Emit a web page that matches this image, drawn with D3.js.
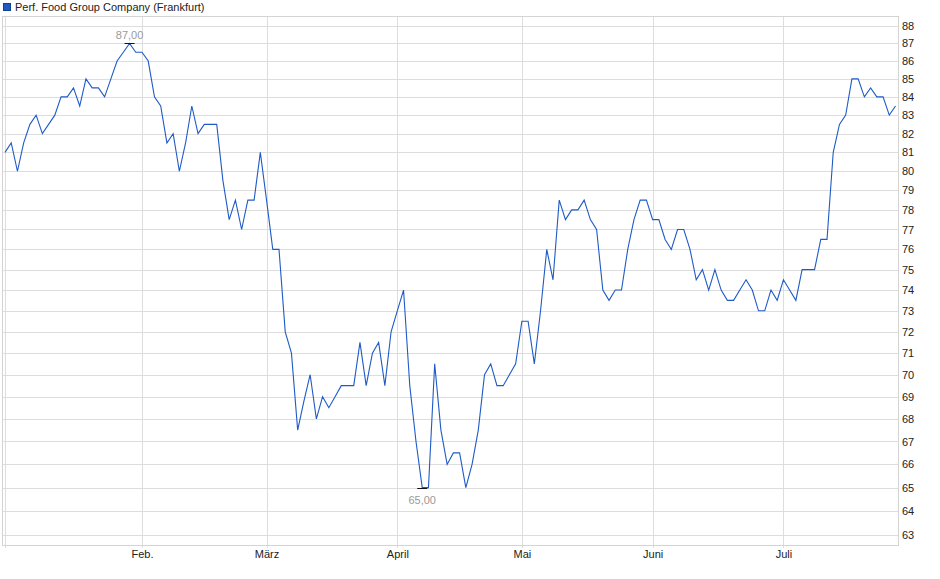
<!DOCTYPE html>
<html>
<head>
<meta charset="utf-8">
<script src="https://cdn.jsdelivr.net/npm/d3@7"></script>
<style>
  html, body { margin: 0; padding: 0; background: #fff; }
  svg { display: block; font-family: "Liberation Sans", Arial, sans-serif; }
</style>
</head>
<body>
<svg id="chart" width="940" height="579"></svg>
<script>
// ---- data ----
const seriesName = "Perf. Food Group Company (Frankfurt)";
const prices = [
  81, 81.5, 80, 81.5, 82.5, 83, 82, 82.5, 83, 84,
  84, 84.5, 83.5, 85, 84.5, 84.5, 84, 85, 86, 86.5,
  87, 86.5, 86.5, 86, 84, 83.5, 81.5, 82, 80, 81.5,
  83.5, 82, 82.5, 82.5, 82.5, 79.5, 77.5, 78.5, 77, 78.5,
  78.5, 81, 78.5, 76, 76, 72, 71, 67.5, 68.8, 70,
  68, 69, 68.5, 69, 69.5, 69.5, 69.5, 71.5, 69.5, 71,
  71.5, 69.5, 72, 73, 74, 69.5, 67, 65, 65, 70.5,
  67.5, 66, 66.5, 66.5, 65, 66, 67.5, 70, 70.5, 69.5,
  69.5, 70, 70.5, 72.5, 72.5, 70.5, 73, 76, 74.5, 78.5,
  77.5, 78, 78, 78.5, 77.5, 77, 74, 73.5, 74, 74,
  76, 77.5, 78.5, 78.5, 77.5, 77.5, 76.5, 76, 77, 77,
  76, 74.5, 75, 74, 75, 74, 73.5, 73.5, 74, 74.5,
  74, 73, 73, 74, 73.5, 74.5, 74, 73.5, 75, 75,
  75, 76.5, 76.5, 81, 82.5, 83, 85, 85, 84, 84.5,
  84, 84, 83, 83.5
];
const monthLabels = ["Feb.", "März", "April", "Mai", "Juni", "Juli"];
const monthStartIndex = [22, 42, 63, 83, 104, 125];
const yTickValues = [63, 64, 65, 66, 67, 68, 69, 70, 71, 72, 73, 74, 75, 76,
                     77, 78, 79, 80, 81, 82, 83, 84, 85, 86, 87, 88];

// ---- layout ----
const plot = { left: 3, right: 898, top: 16, bottom: 545 };
const svg = d3.select("#chart");
const lineColor = "#1f5bc6";
const gridColor = "#dddddd";

const x = d3.scaleLinear().domain([0, 143.4]).range([5, plot.right]);
const y = d3.scaleLog().domain([62.6, 88.58]).range([plot.bottom, plot.top]);

// horizontal grid
svg.append("g").selectAll("line").data(yTickValues).join("line")
  .attr("x1", plot.left).attr("x2", plot.right)
  .attr("y1", d => Math.round(y(d)) + 0.5).attr("y2", d => Math.round(y(d)) + 0.5)
  .attr("stroke", gridColor).attr("stroke-width", 1);

// vertical grid (months + start)
const vIdx = [0].concat(monthStartIndex);
svg.append("g").selectAll("line").data(vIdx).join("line")
  .attr("x1", d => Math.round(x(d)) + 0.5).attr("x2", d => Math.round(x(d)) + 0.5)
  .attr("y1", plot.top).attr("y2", plot.bottom + 3)
  .attr("stroke", gridColor).attr("stroke-width", 1);

// frame
svg.append("rect")
  .attr("x", plot.left - 0.5).attr("y", plot.top + 0.5)
  .attr("width", plot.right - plot.left + 1).attr("height", plot.bottom - plot.top)
  .attr("fill", "none").attr("stroke", "#d4d4d4").attr("stroke-width", 1);

// right axis labels
const yAxis = d3.axisRight(y).tickValues(yTickValues).tickSize(0).tickPadding(4)
  .tickFormat(d3.format("d"));
const ya = svg.append("g").attr("transform", `translate(${plot.right},0)`).call(yAxis);
ya.select(".domain").remove();
ya.selectAll("text").attr("font-size", 11).attr("fill", "#222")
  .attr("font-family", "Liberation Sans, Arial, sans-serif");

// bottom axis labels
const xAxis = d3.axisBottom(x).tickValues(monthStartIndex).tickSize(0).tickPadding(4)
  .tickFormat((d, i) => monthLabels[i]);
const xa = svg.append("g").attr("transform", `translate(0,${plot.bottom + 1})`).call(xAxis);
xa.select(".domain").remove();
xa.selectAll("text").attr("font-size", 11).attr("fill", "#222")
  .attr("font-family", "Liberation Sans, Arial, sans-serif");

// line
const line = d3.line().x((d, i) => x(i)).y(d => y(d));
svg.append("path").datum(prices)
  .attr("d", line).attr("fill", "none")
  .attr("stroke", lineColor).attr("stroke-width", 1.1)
  .attr("stroke-linejoin", "miter");

// high / low markers
const maxV = d3.max(prices), minV = d3.min(prices);
const maxI = prices.indexOf(maxV), minI = prices.indexOf(minV);
const fmt = v => v.toFixed(2).replace(".", ",");
function marker(i, v, above) {
  const cx = x(i), cy = Math.round(y(v)) + 0.5;
  svg.append("line").attr("x1", cx - 5).attr("x2", cx + 5)
    .attr("y1", cy).attr("y2", cy).attr("stroke", "#111").attr("stroke-width", 1);
  svg.append("text").attr("x", cx).attr("y", above ? cy - 5 : cy + 15)
    .attr("text-anchor", "middle").attr("font-size", 11).attr("fill", "#9a9a9a")
    .text(fmt(v));
}
marker(maxI, maxV, true);
marker(minI, minV, false);

// legend
svg.append("rect").attr("x", 3.5).attr("y", 3.5).attr("width", 7).attr("height", 7)
  .attr("fill", lineColor).attr("stroke", "#163f8f").attr("stroke-width", 1);
svg.append("text").attr("x", 15).attr("y", 11).attr("font-size", 11).attr("fill", "#222")
  .text(seriesName);
</script>
</body>
</html>
